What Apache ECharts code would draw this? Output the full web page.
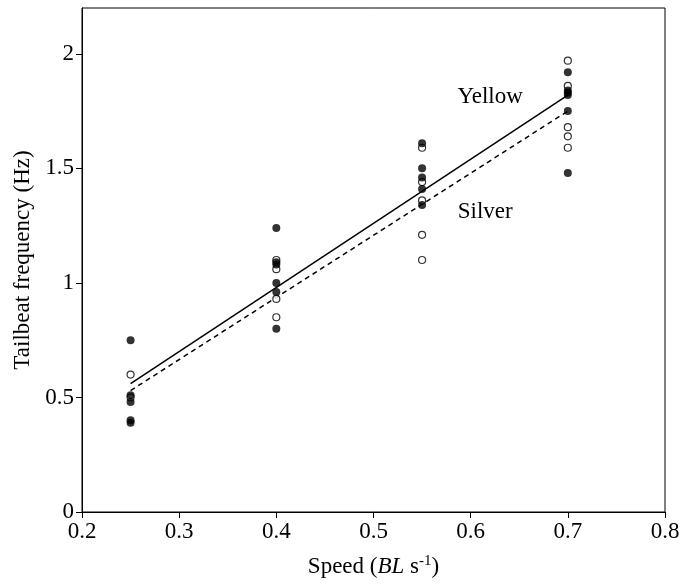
<!DOCTYPE html>
<html>
<head>
<meta charset="utf-8">
<script src="https://cdn.jsdelivr.net/npm/echarts@6/dist/echarts.min.js"></script>
<style>html,body{margin:0;padding:0;background:#fff}#c{width:679px;height:585px}</style>
</head>
<body>
<div id="c"></div>
<script>
// Speeds (BL s^-1)
const speeds = [0.25, 0.4, 0.55, 0.7];
// Yellow fish (filled circles), tailbeat frequency per speed
const yellowVals = [
  [0.75, 0.51, 0.48, 0.40, 0.39],
  [1.24, 1.09, 1.08, 1.00, 0.96, 0.80],
  [1.61, 1.50, 1.46, 1.41, 1.34],
  [1.92, 1.84, 1.83, 1.82, 1.75, 1.48]
];
// Silver fish (open circles)
const silverVals = [
  [0.60, 0.50],
  [1.10, 1.06, 0.93, 0.85],
  [1.59, 1.44, 1.36, 1.21, 1.10],
  [1.97, 1.86, 1.68, 1.64, 1.59]
];
// Regression line end points
const lineX = [0.25, 0.7];
const yellowFit = [0.56, 1.82];
const silverFit = [0.53, 1.75];
const xTicks = [0.2, 0.3, 0.4, 0.5, 0.6, 0.7, 0.8];
const yTicks = [0, 0.5, 1, 1.5, 2];

function pts(vals){
  const out = [];
  vals.forEach((arr, i) => arr.forEach(v => out.push([speeds[i], v])));
  return out;
}
const font = 'Liberation Serif';
const fs = 23;
const chart = echarts.init(document.getElementById('c'));
chart.setOption({
  animation: false,
  grid: {left: 82, right: 14, top: 8, bottom: 73, outerBoundsMode: 'none', show: true, borderColor: '#000', borderWidth: 1, backgroundColor: 'transparent'},
  xAxis: {
    type: 'value', min: 0.2, max: 0.8, interval: 0.1,
    splitLine: {show: false},
    axisLine: {show: true, lineStyle: {color: '#000', width: 1}},
    axisTick: {show: true, length: 6, lineStyle: {color: '#000'}, customValues: xTicks},
    axisLabel: {color: '#000', fontFamily: font, fontSize: fs, margin: 8, customValues: xTicks,
      formatter: v => v.toFixed(1)},
    name: '{n|Speed (}{i|BL}{n| s}{s|-1}{n|)}',
    nameLocation: 'middle', nameGap: 42,
    nameTextStyle: {rich: {
      n: {fontFamily: font, fontSize: fs, color: '#000'},
      i: {fontFamily: font, fontSize: fs, fontStyle: 'italic', color: '#000'},
      s: {fontFamily: font, fontSize: 15, color: '#000', verticalAlign: 'top', padding: [0,0,10,0]}
    }}
  },
  yAxis: {
    type: 'value', min: 0, max: 2.2, interval: 0.5,
    splitLine: {show: false},
    axisLine: {show: true, lineStyle: {color: '#000', width: 1}},
    axisTick: {show: true, length: 6, lineStyle: {color: '#000'}, customValues: yTicks},
    axisLabel: {color: '#000', fontFamily: font, fontSize: fs, margin: 8, customValues: yTicks,
      formatter: v => String(v)},
    name: 'Tailbeat frequency (Hz)',
    nameLocation: 'middle', nameGap: 47,
    nameTextStyle: {fontFamily: font, fontSize: fs, color: '#000'}
  },
  series: [
    {type: 'scatter', name: 'Silver', data: pts(silverVals), symbol: 'circle', symbolSize: 7,
      itemStyle: {color: '#fff', borderColor: '#000', borderWidth: 1.2}, z: 3},
    {type: 'scatter', name: 'Yellow', data: pts(yellowVals), symbol: 'circle', symbolSize: 8,
      itemStyle: {color: '#000'}, z: 4},
    {type: 'line', data: lineX.map((x, i) => [x, yellowFit[i]]), symbol: 'none',
      lineStyle: {color: '#000', width: 1.5, type: 'solid'}, z: 2,
      markPoint: {symbol: 'circle', symbolSize: 0, data: [{coord: [0.62, 1.81], value: 'Yellow'}],
        label: {show: true, position: 'inside', formatter: 'Yellow', color: '#000', fontFamily: font, fontSize: fs}}},
    {type: 'line', data: lineX.map((x, i) => [x, silverFit[i]]), symbol: 'none',
      lineStyle: {color: '#000', width: 1.5, type: [5, 4]}, z: 2,
      markPoint: {symbol: 'circle', symbolSize: 0, data: [{coord: [0.615, 1.31], value: 'Silver'}],
        label: {show: true, position: 'inside', formatter: 'Silver', color: '#000', fontFamily: font, fontSize: fs}}}
  ]
});
</script>
</body>
</html>
